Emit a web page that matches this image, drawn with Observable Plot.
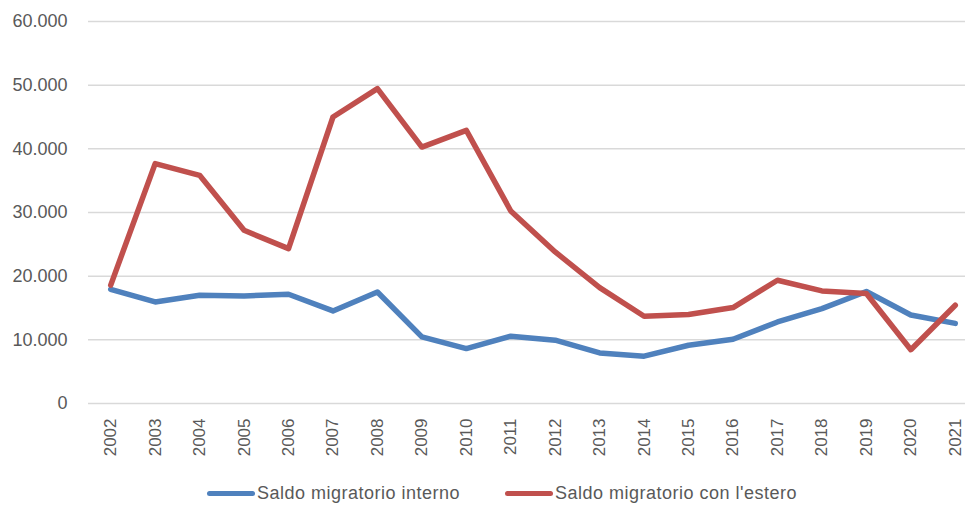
<!DOCTYPE html>
<html>
<head>
<meta charset="utf-8">
<script src="https://cdn.jsdelivr.net/npm/d3@7"></script>
<script src="https://cdn.jsdelivr.net/npm/@observablehq/plot@0.6"></script>
<style>
  html, body { margin: 0; padding: 0; background: #fff; }
  #chart { width: 968px; height: 507px; position: relative; font-family: "Liberation Sans", Arial, sans-serif; }
  .legend { position: absolute; top: 482px; left: 0; width: 968px; height: 22px; font-size: 18px; letter-spacing: 0.5px; color: #595959; }
  .item { position: absolute; top: 0; display: flex; align-items: center; height: 22px; white-space: nowrap; }
  .sw { width: 48px; height: 5px; border-radius: 3px; margin-right: 2px; }
</style>
</head>
<body>
<div id="chart"></div>
<script>
const years = [2002, 2003, 2004, 2005, 2006, 2007, 2008, 2009, 2010, 2011, 2012, 2013, 2014, 2015, 2016, 2017, 2018, 2019, 2020, 2021];
const interno = [17940, 15950, 17000, 16900, 17160, 14540, 17520, 10460, 8630, 10570, 9940, 7950, 7430, 9150, 10090, 12810, 14910, 17600, 13900, 12580];
const estero = [18600, 37680, 35840, 27200, 24330, 45000, 49450, 40280, 42900, 30240, 23800, 18200, 13700, 13970, 15070, 19360, 17680, 17270, 8450, 15430];
const seriesNames = ["Saldo migratorio interno", "Saldo migratorio con l'estero"];
const seriesColors = ["#4F81BD", "#C0504D"];
const yTicks = [0, 10000, 20000, 30000, 40000, 50000, 60000];

const data = [];
years.forEach((y, i) => {
  data.push({year: y, value: interno[i], series: seriesNames[0]});
  data.push({year: y, value: estero[i], series: seriesNames[1]});
});

const itFormat = d3.formatLocale({decimal: ",", thousands: ".", grouping: [3], currency: ["€", ""]}).format(",d");

const plot = Plot.plot({
  width: 968,
  height: 474,
  marginLeft: 88,
  marginRight: 3,
  marginTop: 21,
  marginBottom: 71,
  style: {fontFamily: "'Liberation Sans', Arial, sans-serif", fontSize: "17px", color: "#595959", background: "#fff"},
  x: {type: "linear", domain: [2001.5, 2021.5], range: [88, 977], ticks: years},
  y: {domain: [0, 60000], ticks: yTicks},
  color: {domain: seriesNames, range: seriesColors},
  marks: [
    Plot.gridY(yTicks, {stroke: "#d9d9d9", strokeOpacity: 1, strokeWidth: 1.5}),
    Plot.axisY(yTicks, {tickSize: 0, tickPadding: 21, tickFormat: itFormat, label: null, fill: "#595959", fontSize: 18}),
    Plot.axisX(years, {tickSize: 0, tickPadding: 15, tickRotate: -90, tickFormat: d => String(d), label: null, fill: "#595959", fontSize: 17}),
    Plot.line(data, {x: "year", y: "value", stroke: "series", z: "series", strokeWidth: 5.5, strokeLinejoin: "round", strokeLinecap: "round"})
  ]
});

const chart = document.getElementById("chart");
chart.appendChild(plot);

const legend = document.createElement("div");
legend.className = "legend";
const lefts = [207, 505];
seriesNames.forEach((n, i) => {
  const it = document.createElement("div");
  it.className = "item";
  it.style.left = lefts[i] + "px";
  const sw = document.createElement("span");
  sw.className = "sw";
  sw.style.background = seriesColors[i];
  const tx = document.createElement("span");
  tx.textContent = n;
  it.appendChild(sw);
  it.appendChild(tx);
  legend.appendChild(it);
});
chart.appendChild(legend);
</script>
</body>
</html>
